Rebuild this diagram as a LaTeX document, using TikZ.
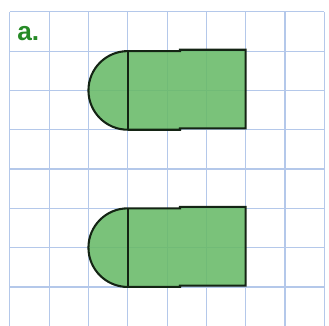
\documentclass[tikz,border=0pt]{standalone}
\usepackage{fontspec}
\newfontfamily\labelfont{Liberation Sans}
\usetikzlibrary{positioning}
\definecolor{gridblue}{RGB}{180,200,234}
\definecolor{fillgreen}{RGB}{104,186,104}
\definecolor{labelgreen}{RGB}{38,138,38}
\definecolor{edge}{RGB}{20,36,20}

\begin{document}
\begin{tikzpicture}[gridline/.style={gridblue,line width=0.8pt},
	halfpill/.style={draw=edge,line width=1.5pt,fill=fillgreen,fill opacity=0.88,line join=miter}]
	\useasboundingbox (-0.25,0.3) rectangle (8.12,-7.97);
	\clip (-0.25,0.3) rectangle (8.12,-7.97);

	% grid
	\foreach \i in {0,...,8} \draw[gridline] (\i,0) -- (\i,-8);
	\foreach \j in {0,...,8} \draw[gridline] (0,-\j) -- (8,-\j);

	% label
	\node[labelgreen,font=\labelfont\bfseries\fontsize{19}{20}\selectfont] (lbl) at (0.47,-0.56) {a.};

	% the two shapes
	\foreach \y/\n in {2/upper,6/lower} {
		\begin{scope}[shift={(0,-\y)}]
			\coordinate (\n top) at (3,1);
			\coordinate (\n bot) at (3,-1);
			\draw[halfpill] (\n top) arc (90:270:1) -- (4.33,-1) -- (4.33,-0.965) -- (6,-0.965)
				-- (6,1.035) -- (4.33,1.035) -- (4.33,1) -- cycle;
			\draw[draw=edge,line width=1.5pt] (\n top) -- (\n bot);
		\end{scope}
	}
\end{tikzpicture}
\end{document}
